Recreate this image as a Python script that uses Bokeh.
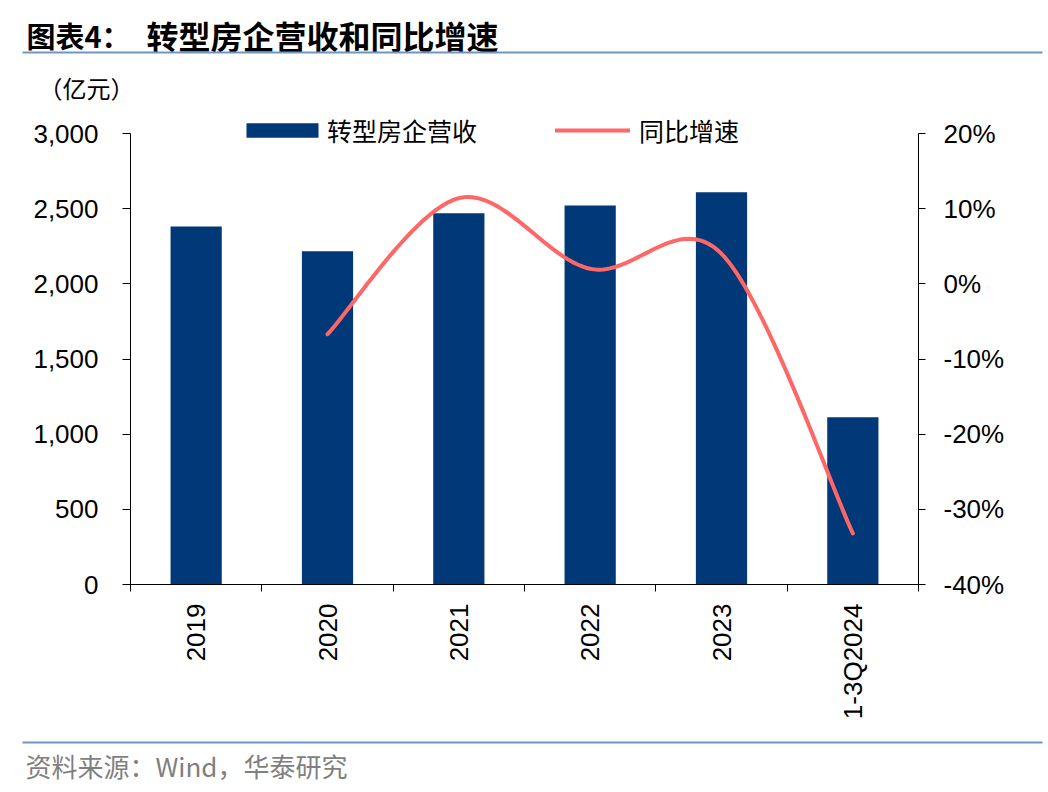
import numpy as np
from bokeh.plotting import figure
from bokeh.layouts import column
from bokeh.models import (Range1d, LinearAxis, FixedTicker, NumeralTickFormatter,
                          Legend, LegendItem, ColumnDataSource)
from bokeh.core.properties import value
from bokeh.embed import file_html
from bokeh.resources import INLINE

# ---------------- data ----------------
categories = ["2019", "2020", "2021", "2022", "2023", "1-3Q2024"]
revenue = [2382, 2217, 2470, 2521, 2610, 1113]          # 亿元
growth_categories = ["2020", "2021", "2022", "2023", "1-3Q2024"]
growth = [-6.7, 11.4, 2.0, 4.0, -33.2]                  # %
left_ticks = [0, 500, 1000, 1500, 2000, 2500, 3000]
right_ticks = [-40, -30, -20, -10, 0, 10, 20]
title_a = "图表4："
title_b = "转型房企营收和同比增速"
unit_text = "（亿元）"
source_text = "资料来源：Wind，华泰研究"

BAR_COLOR = "#003878"
LINE_COLOR = "#FF6666"
RULE_COLOR = "#7295C0"
CJK = "Noto Sans CJK SC"
LAT = "Liberation Sans"

W = 1048
HEAD_H = 106
MAIN_H = 629
FOOT_H = 55


def blank(h):
    f = figure(width=W, height=h, output_backend="svg", toolbar_location=None,
               x_range=Range1d(0, W), y_range=Range1d(h, 0),
               min_border=0, x_axis_type=None, y_axis_type=None)
    f.frame_align = False
    f.outline_line_color = None
    f.xgrid.visible = False
    f.ygrid.visible = False
    f.background_fill_color = "white"
    f.border_fill_color = "white"
    return f


# ---------------- header ----------------
head = blank(HEAD_H)
head.text(x=[26], y=[34], text=[title_a], text_font=value(CJK), text_font_size=value("29px"),
          text_font_style="bold", text_baseline="middle", text_color="black")
head.text(x=[146], y=[34], text=[title_b], text_font=value(CJK), text_font_size=value("32px"),
          text_font_style="bold", text_baseline="middle", text_color="black")
head.line(x=[22, 1042], y=[52, 52], line_color=RULE_COLOR, line_width=2)
head.text(x=[38], y=[87], text=[unit_text], text_font=value(CJK), text_font_size=value("24px"),
          text_baseline="middle", text_color="black")

# ---------------- main chart ----------------
FL, FR = 130, 918            # frame left/right (page px)
FT, FB = HEAD_H, 584         # frame top/bottom (page px)
AX_TOP = 133                 # page y of 3000 / 20%
BL, BR = FL, W - FR
BT = FT - HEAD_H
BB = HEAD_H + MAIN_H - FB
frame_h = FB - FT
scale = frame_h / (FB - AX_TOP)

p = figure(width=W, height=MAIN_H, output_backend="svg", toolbar_location=None,
           x_range=Range1d(0, len(categories)),
           y_range=Range1d(0, left_ticks[-1] * scale),
           min_border_left=BL, min_border_right=BR, min_border_top=BT, min_border_bottom=BB,
           x_axis_type=None, y_axis_type=None)
p.frame_align = False
p.outline_line_color = None
p.xgrid.visible = False
p.ygrid.visible = False
p.background_fill_color = "white"
p.border_fill_color = "white"
r0, r1 = right_ticks[0], right_ticks[-1]
p.extra_y_ranges = {"pct": Range1d(r0, r0 + (r1 - r0) * scale)}

centers = [i + 0.5 for i in range(len(categories))]

bar_src = ColumnDataSource(dict(x=centers, top=revenue))
bars = p.vbar(x="x", top="top", bottom=0, width=0.39, source=bar_src,
              fill_color=BAR_COLOR, line_color=None)

gx = [categories.index(c) + 0.5 for c in growth_categories]
gy = list(growth)


def smooth(xs, ys, n=40):
    pts = list(zip(xs, ys))
    ox, oy = [], []
    m = len(pts)
    for i in range(m - 1):
        p0 = pts[i - 1] if i > 0 else pts[i]
        p1 = pts[i]
        p2 = pts[i + 1]
        p3 = pts[i + 2] if i + 2 < m else pts[i + 1]
        c1 = (p1[0] + (p2[0] - p0[0]) / 6.0, p1[1] + (p2[1] - p0[1]) / 6.0)
        c2 = (p2[0] - (p3[0] - p1[0]) / 6.0, p2[1] - (p3[1] - p1[1]) / 6.0)
        ts = np.linspace(0, 1, n, endpoint=(i == m - 2))
        for t in ts:
            a = (1 - t) ** 3
            b = 3 * t * (1 - t) ** 2
            c = 3 * t * t * (1 - t)
            d = t ** 3
            ox.append(a * p1[0] + b * c1[0] + c * c2[0] + d * p2[0])
            oy.append(a * p1[1] + b * c1[1] + c * c2[1] + d * p2[1])
    return ox, oy


lx, ly = smooth(gx, gy)
line = p.line(lx, ly, y_range_name="pct", line_color=LINE_COLOR, line_width=4,
              line_cap="round", line_join="round")

# axes
xaxis = LinearAxis(ticker=FixedTicker(ticks=centers, minor_ticks=list(range(len(categories) + 1))))
xaxis.major_label_overrides = {c: lab for c, lab in zip(centers, categories)}
xaxis.major_tick_in = 0
xaxis.major_tick_out = 0
xaxis.minor_tick_in = 0
xaxis.minor_tick_out = 7
xaxis.minor_tick_line_color = "black"
xaxis.axis_line_color = "black"
xaxis.major_label_orientation = np.pi / 2
xaxis.major_label_standoff = 12
xaxis.major_label_text_font = LAT
xaxis.major_label_text_font_size = "26px"
xaxis.major_label_text_color = "black"
p.add_layout(xaxis, "below")

yaxis = LinearAxis(ticker=FixedTicker(ticks=left_ticks, minor_ticks=[]),
                   formatter=NumeralTickFormatter(format="0,0"),
                   bounds=(left_ticks[0], left_ticks[-1]))
yaxis.major_tick_in = 0
yaxis.major_tick_out = 8
yaxis.axis_line_color = "black"
yaxis.major_tick_line_color = "black"
yaxis.major_label_standoff = 24
yaxis.major_label_text_font = LAT
yaxis.major_label_text_font_size = "26px"
yaxis.major_label_text_color = "black"
p.add_layout(yaxis, "left")

raxis = LinearAxis(y_range_name="pct", ticker=FixedTicker(ticks=right_ticks, minor_ticks=[]),
                   bounds=(r0, r1))
raxis.major_label_overrides = {t: f"{t}%" for t in right_ticks}
raxis.major_tick_in = 0
raxis.major_tick_out = 7
raxis.axis_line_color = "black"
raxis.major_tick_line_color = "black"
raxis.major_label_standoff = 18
raxis.major_label_text_font = LAT
raxis.major_label_text_font_size = "26px"
raxis.major_label_text_color = "black"
p.add_layout(raxis, "right")

# legends (two, so each swatch gets its own width)
leg_y = (FB - AX_TOP) - 15
leg1 = Legend(items=[LegendItem(label="转型房企营收", renderers=[bars])],
              location=(246 - 9 - FL, leg_y), orientation="horizontal",
              glyph_width=90, glyph_height=18, label_standoff=0, label_height=30,
              padding=0, margin=0, border_line_alpha=0, background_fill_alpha=0,
              label_text_font=CJK, label_text_font_size="25px", label_text_color="black")
leg2 = Legend(items=[LegendItem(label="同比增速", renderers=[line])],
              location=(555 - FL, leg_y), orientation="horizontal",
              glyph_width=75, glyph_height=18, label_standoff=9, label_height=30,
              padding=0, margin=0, border_line_alpha=0, background_fill_alpha=0,
              label_text_font=CJK, label_text_font_size="25px", label_text_color="black")
p.add_layout(leg1)
p.add_layout(leg2)

# ---------------- footer ----------------
F0 = HEAD_H + MAIN_H
foot = blank(FOOT_H)
foot.line(x=[22, 1042], y=[742 - F0, 742 - F0], line_color=RULE_COLOR, line_width=2)
foot.text(x=[25], y=[765 - F0], text=[source_text], text_font=value(CJK),
          text_font_size=value("26px"), text_baseline="middle", text_color="#7F7F7F")

layout = column(head, p, foot, spacing=0)
open("out.html", "w").write(file_html(layout, INLINE))
